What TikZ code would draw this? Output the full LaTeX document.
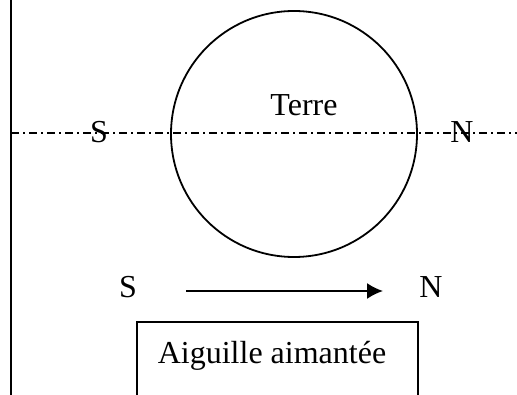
\documentclass[tikz,border=0pt]{standalone}
\usepackage{fontspec}
\setmainfont{Liberation Serif}
\usetikzlibrary{arrows.meta}
\begin{document}
\begin{tikzpicture}[x=1pt,y=-1pt,
  lbl/.style={font=\fontsize{32}{38}\selectfont,inner sep=0pt,anchor=base},
  ln/.style={line width=1.8pt},
  axis/.style={line width=1.3pt,dash pattern=on 8pt off 4pt on 2pt off 4pt}]
\useasboundingbox (0,0) rectangle (517,395);
% left vertical line
\coordinate (vt) at (11,0);
\coordinate (vb) at (11,395);
\draw[ln] (vt) -- (vb);
% Earth
\node[draw,circle,line width=1.8pt,minimum size=246pt,inner sep=0pt] (earth) at (294,134) {};
\node[lbl] (terre) at (304,116) {Terre};
% axis
\coordinate (al) at (11,133);
\coordinate (ar) at (517,133);
\draw[axis] (al) -- (ar);
\node[lbl] (S1) at (99,143) {S};
\node[lbl] (N1) at (462,143) {N};
% needle
\node[lbl] (S2) at (128,298) {S};
\node[lbl] (N2) at (431,298) {N};
\coordinate (a1) at (186,291);
\coordinate (a2) at (383,291);
\draw[line width=1.8pt,-{Latex[length=16pt,width=16pt]}] (a1) -- (a2);
% box
\coordinate (b1) at (137,400);
\coordinate (b2) at (137,322);
\coordinate (b3) at (418,322);
\coordinate (b4) at (418,400);
\draw[ln] (b1) -- (b2) -- (b3) -- (b4);
\node[lbl] (aig) at (272,363) {Aiguille aimantée};
\end{tikzpicture}
\end{document}
